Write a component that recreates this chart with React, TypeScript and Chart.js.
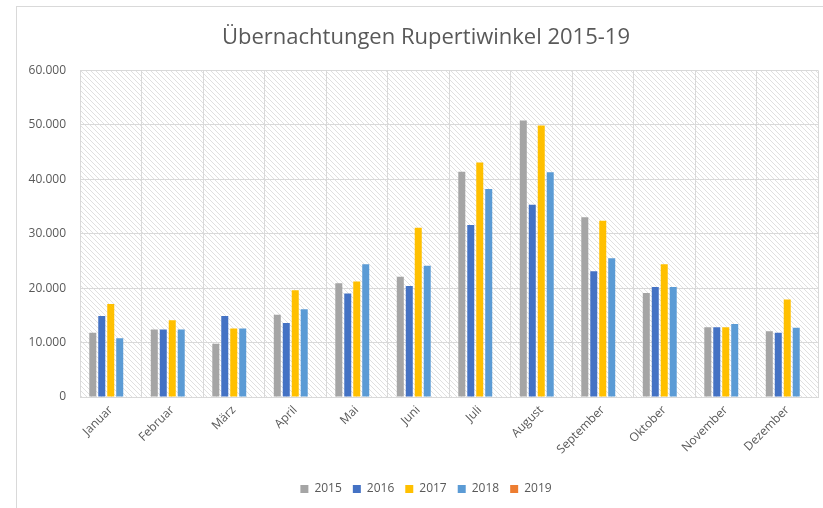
import React, { useEffect, useRef } from "react";
import { Chart, registerables } from "chart.js";

Chart.register(...registerables);

const months = ["Januar", "Februar", "März", "April", "Mai", "Juni", "Juli", "August", "September", "Oktober", "November", "Dezember"];
const y2015 = [11800, 12400, 9800, 15100, 20900, 22100, 41400, 50800, 33000, 19100, 12800, 12100];
const y2016 = [14900, 12400, 14900, 13600, 19000, 20400, 31600, 35300, 23100, 20200, 12800, 11800];
const y2017 = [17100, 14100, 12600, 19600, 21200, 31100, 43100, 49900, 32400, 24400, 12800, 17900];
const y2018 = [10800, 12400, 12600, 16100, 24400, 24100, 38200, 41300, 25500, 20200, 13400, 12700];
const y2019: (number | null)[] = [null, null, null, null, null, null, null, null, null, null, null, null];
const yTicks = [0, 10000, 20000, 30000, 40000, 50000, 60000];

const fmt = (v: number) => {
  if (v === 0) return "0";
  const s = String(Math.round(v));
  return s.replace(/\B(?=(\d{3})+(?!\d))/g, ".");
};

const FONT = "'Open Sans', 'Liberation Sans', sans-serif";
const TXT = "#595959";
const GRID = "#d9d9d9";

function makePattern(ctx: CanvasRenderingContext2D) {
  const t = document.createElement("canvas");
  t.width = 5;
  t.height = 5;
  const c = t.getContext("2d")!;
  c.fillStyle = "#ffffff";
  c.fillRect(0, 0, 5, 5);
  c.strokeStyle = "#e0e0e0";
  c.lineWidth = 1;
  c.beginPath();
  c.moveTo(-5, -5); c.lineTo(10, 10);
  c.moveTo(-5, 0); c.lineTo(5, 10);
  c.moveTo(0, -5); c.lineTo(10, 5);
  c.stroke();
  return ctx.createPattern(t, "repeat");
}

const bgPlugin = {
  id: "bgPlugin",
  afterLayout(chart: any) {
    if (chart.titleBlock) chart.titleBlock.left += 18;
    if (chart.legend) chart.legend.left += 18;
  },
  beforeDraw(chart: any) {
    const { ctx, chartArea, width, height } = chart;
    ctx.save();
    ctx.fillStyle = "#ffffff";
    ctx.fillRect(0, 0, width, height);
    ctx.strokeStyle = GRID;
    ctx.lineWidth = 1;
    ctx.strokeRect(16.5, 6.5, width + 20, height + 20);
    const p = makePattern(ctx);
    if (p) {
      ctx.fillStyle = p;
      ctx.fillRect(chartArea.left, chartArea.top, chartArea.right - chartArea.left, chartArea.bottom - chartArea.top);
    }
    ctx.restore();
  },
};

export default function App() {
  const ref = useRef<HTMLCanvasElement | null>(null);
  useEffect(() => {
    if (!ref.current) return;
    const mk = (label: string, data: (number | null)[], color: string) => ({
      label,
      data,
      backgroundColor: color,
      borderWidth: 0,
      categoryPercentage: 0.73,
      barPercentage: 0.78,
    });
    const chart = new Chart(ref.current, {
      type: "bar",
      data: {
        labels: months,
        datasets: [
          mk("2015", y2015, "#A5A5A5"),
          mk("2016", y2016, "#4472C4"),
          mk("2017", y2017, "#FFC000"),
          mk("2018", y2018, "#5B9BD5"),
          mk("2019", y2019, "#ED7D31"),
        ],
      },
      options: {
        animation: false,
        responsive: true,
        maintainAspectRatio: false,
        layout: { padding: { left: 16, right: 5, top: 0, bottom: 3 } },
        plugins: {
          title: {
            display: true,
            text: "Übernachtungen Rupertiwinkel 2015-19",
            color: TXT,
            font: { family: FONT, size: 22, weight: "normal" },
            padding: { top: 25, bottom: 19 },
          },
          legend: {
            position: "bottom",
            labels: {
              boxWidth: 8,
              boxHeight: 8,
              padding: 11,
              color: TXT,
              font: { family: FONT, size: 12 },
            },
          },
          tooltip: { enabled: false },
        },
        scales: {
          x: {
            grid: { color: GRID, drawTicks: false, offset: true },
            border: { color: GRID },
            ticks: {
              color: TXT,
              font: { family: FONT, size: 12 },
              maxRotation: 45,
              minRotation: 45,
              padding: 6,
            },
            afterFit: (s: any) => { s.height = 75; },
          },
          y: {
            min: 0,
            max: 60000,
            afterBuildTicks: (s: any) => { s.ticks = yTicks.map((v) => ({ value: v })); },
            grid: { color: GRID, drawTicks: false },
            border: { display: false },
            ticks: {
              color: TXT,
              font: { family: FONT, size: 12 },
              padding: 14,
              callback: (v: any) => fmt(Number(v)),
            },
            afterFit: (s: any) => { s.width = 64; },
          },
        },
      },
      plugins: [bgPlugin],
    });
    return () => chart.destroy();
  }, []);
  return (
    <div style={{ position: "absolute", left: 0, top: 0, width: 823, height: 508 }}>
      <canvas ref={ref} />
    </div>
  );
}
